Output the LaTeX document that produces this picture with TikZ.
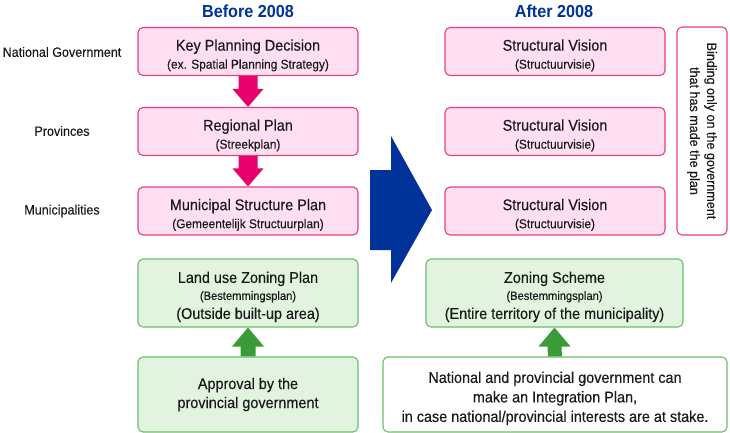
\documentclass[tikz,border=0pt]{standalone}
\usepackage{fontspec}
\setmainfont{Liberation Sans}[FakeStretch=0.93, UprightFeatures={FakeBold=0.3}]
\usetikzlibrary{positioning,calc}
\definecolor{planpink}{HTML}{FFDFF1}
\definecolor{pinkedge}{HTML}{E4407E}
\definecolor{pinkarrow}{HTML}{E8006C}
\definecolor{plangreen}{HTML}{E2F4E0}
\definecolor{greenedge}{HTML}{6CBE68}
\definecolor{greenarrow}{HTML}{3A9C38}
\definecolor{headblue}{HTML}{003399}
\definecolor{textdark}{HTML}{1A1A1A}
\newcommand{\titlesize}{\fontsize{15.5}{18}\selectfont}
\newcommand{\subsize}{\fontsize{12.8}{18}\selectfont}
\newcommand{\topgap}{\rule{0pt}{19pt}}

\begin{document}
\begin{tikzpicture}[x=1pt, y=-1pt,
    planbox/.style={rounded corners=5pt, line width=1.1pt, align=center, inner sep=0pt,
        minimum width=220pt, text=textdark, font=\subsize},
    pinkbox/.style={planbox, draw=pinkedge, fill=planpink, minimum height=48pt},
    greenbox/.style={planbox, draw=greenedge, fill=plangreen},
    whitebox/.style={planbox, draw=greenedge, fill=white},
    level/.style={text=textdark, font=\fontsize{13.5}{16}\selectfont},
    heading/.style={text=headblue, font=\fontsize{17.4}{20}\selectfont\bfseries}]
    \useasboundingbox (0,0) rectangle (730,433);
    % headings
    \node[heading] (before) at (248,11) {Before 2008};
    \node[heading] (after) at (554,11) {After 2008};
    % levels of government
    \node[level] (natgov) at (62,52) {National Government};
    \node[level] (prov) at (62,131) {Provinces};
    \node[level] (muni) at (62,211) {Municipalities};
    % plans before 2008
    \node[pinkbox] (kpd) at (248,51.5) {{\titlesize\topgap Key Planning Decision}\\(ex. Spatial Planning Strategy)};
    \node[pinkbox] (regplan) at (248,131.5) {{\titlesize\topgap Regional Plan}\\(Streekplan)};
    \node[pinkbox] (munplan) at (248,211) {{\titlesize\topgap Municipal Structure Plan}\\(Gemeentelijk Structuurplan)};
    \node[greenbox, minimum height=68pt] (landuse) at (248,293)
        {{\titlesize\topgap Land use Zoning Plan}\\[-1pt]{\fontsize{12}{14}\selectfont(Bestemmingsplan)}\\[1pt]{\titlesize(Outside built-up area)}};
    \node[greenbox, minimum height=75pt] (approval) at (248,394.5)
        {{\titlesize Approval by the}\\[1pt]{\titlesize provincial government}};
    % plans after 2008
    \node[pinkbox] (visnat) at (555,51.5) {{\titlesize\topgap Structural Vision}\\(Structuurvisie)};
    \node[pinkbox] (visprov) at (555,131.5) {{\titlesize\topgap Structural Vision}\\(Structuurvisie)};
    \node[pinkbox] (vismuni) at (555,211) {{\titlesize\topgap Structural Vision}\\(Structuurvisie)};
    \node[planbox, draw=pinkedge, fill=white, minimum width=208pt, minimum height=50pt,
        rotate=-90, font=\fontsize{13.5}{17}\selectfont] (binding) at (702,131)
        {Binding only on the government\\that has made the plan};
    \node[greenbox, minimum width=257pt, minimum height=68pt] (zoning) at (554.5,293)
        {{\titlesize\topgap Zoning Scheme}\\[-1pt]{\fontsize{12}{14}\selectfont(Bestemmingsplan)}\\[1pt]{\titlesize(Entire territory of the municipality)}};
    \node[whitebox, minimum width=344pt, minimum height=75pt] (integration) at (555,394.5)
        {{\titlesize\topgap National and provincial government can}\\[1.5pt]{\titlesize make an Integration Plan,}\\[1.5pt]{\titlesize in case national/provincial interests are at stake.}};
    % pink arrows down
    \fill[pinkarrow] ($(kpd.south)+(-9.5,0)$) -- ($(regplan.north)+(-9.5,-18)$) -- ($(regplan.north)+(-15.5,-18)$)
        -- (regplan.north) -- ($(regplan.north)+(15.5,-18)$) -- ($(regplan.north)+(9.5,-18)$) -- ($(kpd.south)+(9.5,0)$) -- cycle;
    \fill[pinkarrow] ($(regplan.south)+(-9.5,0)$) -- ($(munplan.north)+(-9.5,-18)$) -- ($(munplan.north)+(-15.5,-18)$)
        -- (munplan.north) -- ($(munplan.north)+(15.5,-18)$) -- ($(munplan.north)+(9.5,-18)$) -- ($(regplan.south)+(9.5,0)$) -- cycle;
    % green arrows up
    \fill[greenarrow] ($(approval.north)+(-7.5,0)$) -- ($(landuse.south)+(-7.5,19)$) -- ($(landuse.south)+(-16,19)$)
        -- (landuse.south) -- ($(landuse.south)+(16,19)$) -- ($(landuse.south)+(7.5,19)$) -- ($(approval.north)+(7.5,0)$) -- cycle;
    \fill[greenarrow] ($(integration.north)+(-7,0)$) -- ($(zoning.south)+(-7,19)$) -- ($(zoning.south)+(-16,19)$)
        -- (zoning.south) -- ($(zoning.south)+(16,19)$) -- ($(zoning.south)+(7,19)$) -- ($(integration.north)+(7,0)$) -- cycle;
    % big arrow before -> after
    \fill[headblue] (370,170) -- (391,170) -- (391,136) -- (432,210) -- (391,283) -- (391,250) -- (370,250) -- cycle;
\end{tikzpicture}
\end{document}
